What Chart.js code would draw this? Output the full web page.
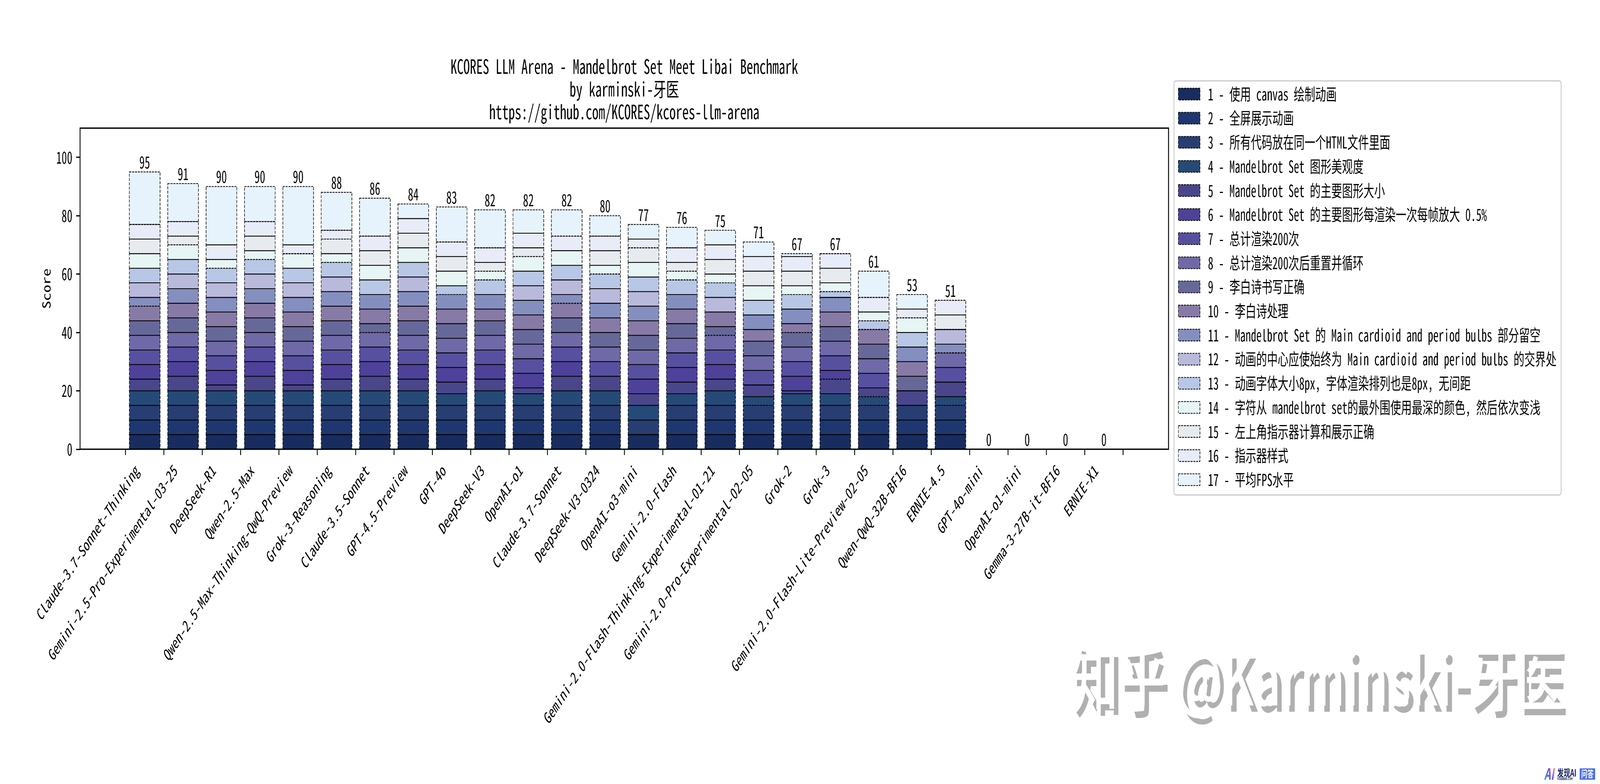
<!DOCTYPE html>
<html><head><meta charset="utf-8">
<style>html,body{margin:0;padding:0;background:#fff;overflow:hidden}canvas{display:block}</style>
<script src="https://cdn.jsdelivr.net/npm/chart.js@4"></script>
</head><body><canvas id="c" width="6215" height="2007"></canvas>
<script>
const categories = ["Claude-3.7-Sonnet-Thinking","Gemini-2.5-Pro-Experimental-03-25","DeepSeek-R1","Qwen-2.5-Max","Qwen-2.5-Max-Thinking-QwQ-Preview","Grok-3-Reasoning","Claude-3.5-Sonnet","GPT-4.5-Preview","GPT-4o","DeepSeek-V3","OpenAI-o1","Claude-3.7-Sonnet","DeepSeek-V3-0324","OpenAI-o3-mini","Gemini-2.0-Flash","Gemini-2.0-Flash-Thinking-Experimental-01-21","Gemini-2.0-Pro-Experimental-02-05","Grok-2","Grok-3","Gemini-2.0-Flash-Lite-Preview-02-05","Qwen-QwQ-32B-BF16","ERNIE-4.5","GPT-4o-mini","OpenAI-o1-mini","Gemma-3-27B-it-BF16","ERNIE-X1"];
const seriesNames = ["1 - 使用 canvas 绘制动画","2 - 全屏展示动画","3 - 所有代码放在同一个HTML文件里面","4 - Mandelbrot Set 图形美观度","5 - Mandelbrot Set 的主要图形大小","6 - Mandelbrot Set 的主要图形每渲染一次每帧放大 0.5%","7 - 总计渲染200次","8 - 总计渲染200次后重置并循环","9 - 李白诗书写正确","10 - 李白诗处理","11 - Mandelbrot Set 的 Main cardioid and period bulbs 部分留空","12 - 动画的中心应使始终为 Main cardioid and period bulbs 的交界处","13 - 动画字体大小8px, 字体渲染排列也是8px, 无间距","14 - 字符从 mandelbrot set的最外围使用最深的颜色, 然后依次变浅","15 - 左上角指示器计算和展示正确","16 - 指示器样式","17 - 平均FPS水平"];
const seriesColors = ["#182c5f","#1f3771","#283e72","#254a78","#4a468c","#4e419a","#5750a0","#6f69a8","#67689a","#887aa7","#848fc0","#b9b9dc","#b8c7e6","#e8f5f5","#e7ebf0","#e8ebf8","#e7f3fc"];
const s1  = [5,5,5,5,5,5,5,5,5,5,5,5,5,5,5,5,5,5,5,5,5,5,0,0,0,0];
const s2  = [5,5,5,5,5,5,5,5,5,5,5,5,5,0,5,5,5,5,5,5,5,5,0,0,0,0];
const s3  = [5,5,5,5,5,5,5,5,5,5,5,5,5,5,5,5,5,5,5,5,5,5,0,0,0,0];
const s4  = [5,5,5,5,5,5,5,5,4,5,4,5,5,5,4,5,3,4,4,3,0,3,0,0,0,0];
const s5  = [4,5,2,5,2,4,5,4,4,4,2,5,5,4,4,4,4,1,5,3,5,5,0,0,0,0];
const s6  = [5,5,5,5,5,5,5,5,5,5,5,5,0,5,5,5,0,5,3,0,0,0,0,0,0,0];
const s7  = [5,5,5,5,5,5,5,5,5,5,5,5,5,5,5,5,5,5,5,5,0,5,0,0,0,0];
const s8  = [5,5,5,5,5,5,5,5,5,5,5,5,5,5,5,5,5,5,5,5,0,5,0,0,0,0];
const s9  = [5,5,5,5,5,5,3,5,5,5,5,5,5,5,5,3,5,5,5,5,5,0,0,0,0,0];
const s10 = [5,5,5,5,5,5,5,5,5,4,5,5,5,5,5,5,4,3,5,5,5,0,0,0,0,0];
const s11 = [3,5,5,5,5,5,5,5,5,5,5,3,5,5,5,0,5,5,5,0,5,3,0,0,0,0];
const s12 = [5,5,5,5,5,5,0,5,0,0,5,5,5,5,0,5,0,0,0,0,0,5,0,0,0,0];
const s13 = [5,5,5,5,5,5,5,5,3,5,5,5,5,5,5,5,5,5,2,3,5,0,0,0,0,0];
const s14 = [5,5,3,3,5,3,5,5,5,3,5,5,3,5,3,3,5,3,3,3,5,0,0,0,0,0];
const s15 = [5,3,0,5,0,5,5,5,5,3,3,0,5,5,3,5,5,5,5,0,0,5,0,0,0,0];
const s16 = [5,5,5,5,3,3,5,5,5,5,5,5,5,3,5,5,5,5,5,5,3,5,0,0,0,0];
const s17 = [18,13,20,12,20,13,13,5,12,13,8,9,7,5,7,5,5,1,0,9,5,0,0,0,0,0];
const seriesValues = [s1,s2,s3,s4,s5,s6,s7,s8,s9,s10,s11,s12,s13,s14,s15,s16,s17];
const yTicks = [0,20,40,60,80,100];
const titleLines = ["KCORES LLM Arena - Mandelbrot Set Meet Libai Benchmark","by karminski-牙医","https://github.com/KCORES/kcores-llm-arena"];
const FAMILY = '"Noto Sans Mono CJK SC","Noto Sans CJK SC","Liberation Mono",monospace';
const SANS = '"Noto Sans CJK SC","Noto Sans",sans-serif';

const totals = categories.map((_, i) => seriesValues.reduce((a, s) => a + s[i], 0));

// The browser window can be narrower than the requested 6215 px: keep the drawing whole inside it.
const canvas = document.getElementById('c');
canvas.style.width = Math.min(innerWidth, 6215) + 'px';
canvas.style.height = '2007px';

const decor = {
  id: 'decor',
  beforeLayout(chart) {
    const l = chart.legend;
    if (l && !l._fixed) {
      const f = l.fit;
      l.fit = function () { f.call(this); this.width = 1676; };
      l._fixed = true;
    }
  },
  afterLayout(chart) {
    const l = chart.legend;
    l.left = 4557; l.right = 6060; l.top = 200;
  },
  beforeDraw(chart) {
    const c = chart.ctx;
    c.save();
    c.fillStyle = '#fff'; c.fillRect(0, 0, chart.width, chart.height);
    c.strokeStyle = '#cfcfcf'; c.lineWidth = 3.5;
    c.beginPath(); c.roundRect(4560, 207, 1504, 1060, 8); c.stroke();
    c.restore();
  },
  afterDatasetsDraw(chart) {
    const c = chart.ctx;
    c.save();
    c.strokeStyle = '#000'; c.lineWidth = 2.1; c.setLineDash([7.7, 3.3]);
    chart.data.datasets.forEach((d, i) => {
      chart.getDatasetMeta(i).data.forEach(b => {
        c.strokeRect(b.x - b.width / 2, Math.min(b.y, b.base), b.width, Math.abs(b.base - b.y));
      });
    });
    c.setLineDash([]);
    const a = chart.chartArea;
    c.lineWidth = 3.4;
    c.strokeRect(a.left, a.top, a.right - a.left, a.bottom - a.top);
    c.fillStyle = '#000'; c.font = '41.67px ' + FAMILY; c.textAlign = 'center'; c.textBaseline = 'alphabetic';
    totals.forEach((t, i) => {
      c.fillText(String(t), chart.scales.x.getPixelForValue(i), chart.scales.y.getPixelForValue(t) - 9);
    });
    c.restore();
  },
  afterDraw(chart) {
    const c = chart.ctx;
    c.save();
    // watermark: white text over its grey shadow
    c.textAlign = 'left'; c.textBaseline = 'alphabetic';
    c.font = '500 184px ' + SANS;
    c.fillStyle = '#b0b0b0';
    c.fillText('知乎 @Karminski-牙医', 4176, 1822);
    c.fillStyle = '#fff';
    c.fillText('知乎 @Karminski-牙医', 4159, 1806);
    // badge
    const g = c.createLinearGradient(5998, 1996, 6039, 1966);
    g.addColorStop(0, '#2fa0f2'); g.addColorStop(0.55, '#6a48ee'); g.addColorStop(1, '#f59a9a');
    c.fillStyle = g; c.font = 'italic 700 40px ' + SANS;
    c.fillText('AI', 5998, 1996);
    c.fillStyle = '#14205c'; c.font = '700 25px ' + SANS;
    c.fillText('发现AI', 6049, 1988);
    c.font = '700 8.5px ' + SANS;
    c.fillText('FAXIANAI.COM', 6049, 1997);
    c.fillStyle = '#4a6ee8'; c.fillRect(6136, 1967, 60, 29);
    c.fillStyle = '#fff'; c.font = '700 24px ' + SANS; c.textAlign = 'center';
    c.fillText('问答', 6166, 1990);
    c.restore();
  }
};

const datasets = seriesNames.map((name, k) => ({
  label: name,
  data: seriesValues[k].map((v, i) => ({ x: i, y: v })),
  backgroundColor: seriesColors[k],
  borderWidth: 0,
  stack: 'scores',
  categoryPercentage: 1,
  barPercentage: 0.8
}));

new Chart(canvas, {
  type: 'bar',
  data: { labels: categories, datasets },
  plugins: [decor],
  options: {
    responsive: false, animation: false, devicePixelRatio: 1,
    layout: { padding: 0 },
    font: { family: FAMILY, size: 41.67 },
    color: '#000',
    plugins: {
      tooltip: { enabled: false },
      title: {
        display: true, text: titleLines, fullSize: false, color: '#000',
        font: { family: FAMILY, size: 50, weight: 'normal', lineHeight: 1.16 },
        padding: { top: 141, bottom: 13 }
      },
      legend: {
        display: true, position: 'right', align: 'start',
        labels: {
          boxWidth: 84, boxHeight: 30, padding: 20.03, color: '#000',
          font: { family: FAMILY, size: 41.67 },
          generateLabels(chart) {
            return Chart.defaults.plugins.legend.labels.generateLabels(chart).map(it => ({
              ...it, text: '\u2005' + it.text, strokeStyle: '#000', lineWidth: 2.1, lineDash: [7.7, 3.3]
            }));
          }
        }
      }
    },
    scales: {
      x: {
        type: 'linear', stacked: true, min: -1.685, max: 26.685, offset: false,
        afterBuildTicks(s) { s.ticks = categories.map((_, i) => ({ value: i })); },
        afterFit(s) { s.height = 857; },
        grid: { display: true, drawOnChartArea: false, drawTicks: true, tickLength: 15, tickWidth: 3.3, tickColor: '#000' },
        border: { display: false },
        ticks: {
          autoSkip: false, maxRotation: 45, minRotation: 45, padding: 14, labelOffset: -30, color: '#000',
          font: { family: FAMILY, size: 41.67 },
          callback: v => categories[v]
        }
      },
      y: {
        stacked: true, min: 0, max: 110,
        afterBuildTicks(s) { s.ticks = yTicks.map(v => ({ value: v })); },
        afterFit(s) { s.width = 311; },
        grid: { display: true, drawOnChartArea: false, drawTicks: true, tickLength: 15, tickWidth: 3.3, tickColor: '#000' },
        border: { display: false },
        title: { display: true, text: 'Score', color: '#000', font: { family: FAMILY, size: 41.67 }, padding: { top: 155, bottom: 0 } },
        ticks: { padding: 15, color: '#000', font: { family: FAMILY, size: 41.67 } }
      }
    }
  }
});
</script></body></html>
